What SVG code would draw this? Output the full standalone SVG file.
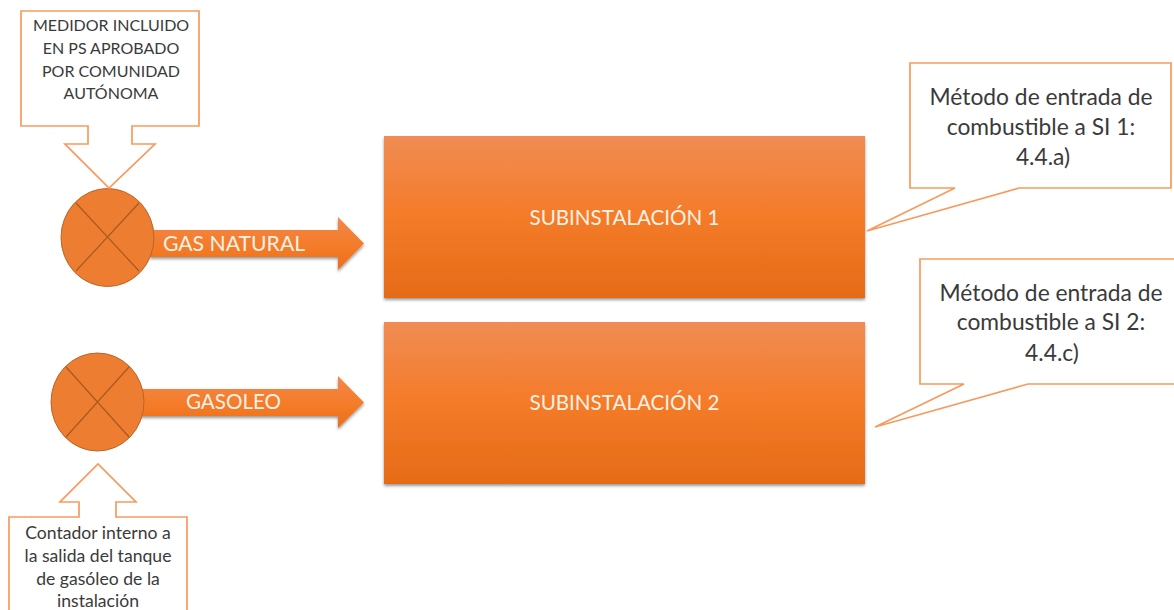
<svg xmlns="http://www.w3.org/2000/svg" width="1174" height="610" viewBox="0 0 1174 610">
<style>
text{font-family:"Lato","Carlito","Open Sans",sans-serif;text-anchor:middle}
.call{fill:#fff;stroke:#f79a5e;stroke-width:1.7;stroke-linejoin:miter}
.dark{fill:#3a3a3a}
.s{font-size:16px}
.m{font-size:17.6px}
.l{font-size:22.8px}
.w{fill:#fdf1e6;font-size:20.6px}
.circ{fill:#ed7d31;stroke:#b9652a;stroke-width:1}
.x{stroke:#a9591f;stroke-width:1.2;fill:none}
.box{fill:url(#g);filter:url(#sh)}
.arr{fill:url(#g2);filter:url(#sh)}
</style>
<defs>
<linearGradient id="g" x1="0" y1="0" x2="0" y2="1"><stop offset="0" stop-color="#f08c54"/><stop offset="0.5" stop-color="#f47b28"/><stop offset="1" stop-color="#e56b17"/></linearGradient>
<linearGradient id="g2" x1="0" y1="0" x2="0" y2="1"><stop offset="0" stop-color="#f2894a"/><stop offset="0.6" stop-color="#f47a26"/><stop offset="1" stop-color="#e96f1c"/></linearGradient>
<filter id="sh" x="-5%" y="-10%" width="110%" height="125%"><feDropShadow dx="0" dy="2" stdDeviation="1.8" flood-color="#000" flood-opacity="0.4"/></filter>
</defs>
<g id="connectors">
<path id="arrow-gas" class="arr" d="M150 230H338V217L364 243.500L338 270V257H150Z"/>
<path id="arrow-gasoleo" class="arr" d="M140 389H338V376L364 402.500L338 428V416H140Z"/>
</g>
<g id="subinstalacion-1"><rect class="box" x="384" y="136" width="481" height="162"/><text class="w" x="624.500" y="225">SUBINSTALACIÓN 1</text></g>
<g id="subinstalacion-2"><rect class="box" x="384" y="322" width="481" height="162"/><text class="w" x="624.500" y="410">SUBINSTALACIÓN 2</text></g>
<g id="meter-1"><ellipse class="circ" cx="107.500" cy="237.500" rx="46.500" ry="49"/><path class="x" d="M76 203L139 271M139 203L76 271"/></g>
<g id="meter-2"><ellipse class="circ" cx="97.500" cy="402" rx="46.500" ry="49"/><path class="x" d="M66 367L129 437M129 367L66 437"/></g>
<g id="label-gas"><text class="w" x="234" y="251" style="font-size:21.2px">GAS NATURAL</text></g>
<g id="label-gasoleo"><text class="w" x="233.500" y="409">GASOLEO</text></g>
<g id="callout-medidor"><path class="call" d="M21 11H199V126H132V144H155L109 188L65 144H88V126H21Z"/>
<g class="dark s"><text x="111" y="31">MEDIDOR INCLUIDO</text><text x="111" y="54">EN PS APROBADO</text><text x="111" y="77">POR COMUNIDAD</text><text x="111" y="99">AUTÓNOMA</text></g></g>
<g id="callout-contador"><path class="call" d="M9 517H79V502H60L98 464L136 502H116V517H187V612H9Z"/>
<g class="dark m"><text x="98" y="539">Contador interno a</text><text x="98" y="562">la salida del tanque</text><text x="98" y="585">de gasóleo de la</text><text x="98" y="607">instalación</text></g></g>
<g id="callout-si1"><path class="call" d="M910 63H1171V188H1019L867 231L955 188H910Z"/>
<g class="dark l"><text x="1041" y="105">Método de entrada de</text><text x="1041" y="135">combustible a SI 1:</text><text x="1043" y="165">4.4.a)</text></g></g>
<g id="callout-si2"><path class="call" d="M1176 259H920V384H964L875 427L1028 384H1176"/>
<g class="dark l"><text x="1051" y="301">Método de entrada de</text><text x="1051" y="330">combustible a SI 2:</text><text x="1052" y="361">4.4.c)</text></g></g>
</svg>
